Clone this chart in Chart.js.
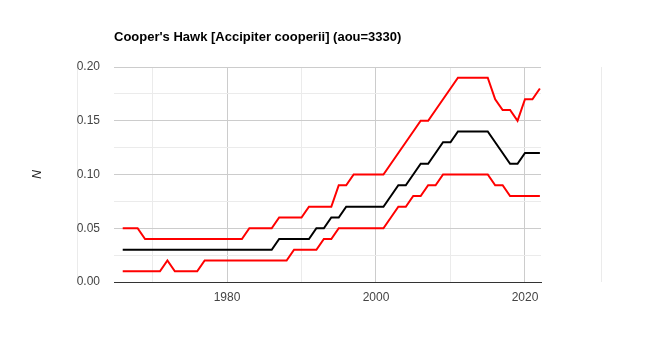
<!DOCTYPE html>
<html>
<head>
<meta charset="utf-8">
<script src="https://cdn.jsdelivr.net/npm/chart.js@4/dist/chart.umd.min.js"></script>
<style>
html,body{margin:0;padding:0;background:#fff;}
#wrap{width:656px;height:350px;position:relative;}
</style>
</head>
<body>
<div id="wrap"><canvas id="c" width="656" height="350"></canvas></div>
<script>
const chartTitle = "Cooper's Hawk [Accipiter cooperii] (aou=3330)";
const yAxisTitle = "N";
const years = [];
for (let y = 1966; y <= 2022; y++) years.push(y);

const upper = [0.05,0.05,0.05,0.04,0.04,0.04,0.04,0.04,0.04,0.04,
               0.04,0.04,0.04,0.04,0.04,0.04,0.04,0.05,0.05,0.05,
               0.05,0.06,0.06,0.06,0.06,0.07,0.07,0.07,0.07,0.09,
               0.09,0.10,0.10,0.10,0.10,0.10,0.11,0.12,0.13,0.14,
               0.15,0.15,0.16,0.17,0.18,0.19,0.19,0.19,0.19,0.19,
               0.17,0.16,0.16,0.15,0.17,0.17,0.18];
const middle = [0.03,0.03,0.03,0.03,0.03,0.03,0.03,0.03,0.03,0.03,
                0.03,0.03,0.03,0.03,0.03,0.03,0.03,0.03,0.03,0.03,
                0.03,0.04,0.04,0.04,0.04,0.04,0.05,0.05,0.06,0.06,
                0.07,0.07,0.07,0.07,0.07,0.07,0.08,0.09,0.09,0.10,
                0.11,0.11,0.12,0.13,0.13,0.14,0.14,0.14,0.14,0.14,
                0.13,0.12,0.11,0.11,0.12,0.12,0.12];
const lower = [0.01,0.01,0.01,0.01,0.01,0.01,0.02,0.01,0.01,0.01,
               0.01,0.02,0.02,0.02,0.02,0.02,0.02,0.02,0.02,0.02,
               0.02,0.02,0.02,0.03,0.03,0.03,0.03,0.04,0.04,0.05,
               0.05,0.05,0.05,0.05,0.05,0.05,0.06,0.07,0.07,0.08,
               0.08,0.09,0.09,0.10,0.10,0.10,0.10,0.10,0.10,0.10,
               0.09,0.09,0.08,0.08,0.08,0.08,0.08];
const xTicks = [1970,1980,1990,2000,2010,2020];
const xLabelTicks = [1980,2000,2020];
const yLabelTicks = [0,0.05,0.10,0.15,0.20];

const pts = arr => years.map((y,i)=>({x:y,y:arr[i]}));
const FONT = "'Liberation Sans', Arial, sans-serif";

const sideLines = {
  id:'sideLines',
  beforeDraw(chart){
    const {ctx, chartArea:a} = chart;
    ctx.save();
    ctx.strokeStyle = '#ebebeb';
    ctx.lineWidth = 1;
    [a.left - 37, a.right + 60].forEach(x=>{
      ctx.beginPath();
      ctx.moveTo(x+0.5, a.top);
      ctx.lineTo(x+0.5, a.bottom);
      ctx.stroke();
    });
    ctx.restore();
  }
};

new Chart(document.getElementById('c'), {
  type:'line',
  data:{
    datasets:[
      {label:'upper', data:pts(upper), borderColor:'#ff0000', borderWidth:2, pointRadius:0, fill:false, tension:0},
      {label:'N', data:pts(middle), borderColor:'#000000', borderWidth:2, pointRadius:0, fill:false, tension:0},
      {label:'lower', data:pts(lower), borderColor:'#ff0000', borderWidth:2, pointRadius:0, fill:false, tension:0}
    ]
  },
  options:{
    responsive:false,
    animation:false,
    layout:{padding:{left:0,right:115,top:0,bottom:0}},
    plugins:{
      legend:{display:false},
      tooltip:{enabled:false},
      title:{
        display:true, text:chartTitle, align:'start', fullSize:false,
        color:'#000', font:{family:FONT, size:13, weight:'bold'},
        padding:{top:30,bottom:21.4}
      }
    },
    scales:{
      x:{
        type:'linear', min:1964.83, max:2022.15,
        afterBuildTicks(s){ s.ticks = xTicks.map(v=>({value:v})); },
        afterFit(s){ s.height = 68; },
        grid:{
          drawTicks:false,
          color:c=> (c.tick && xLabelTicks.includes(c.tick.value)) ? '#cccccc' : '#ebebeb',
          lineWidth:1
        },
        border:{display:true, color:'#333333', width:1},
        ticks:{
          padding:8, color:'#444444', font:{family:FONT, size:12},
          maxRotation:0, autoSkip:false,
          callback:v=> xLabelTicks.includes(v) ? String(v) : ''
        }
      },
      y:{
        min:0, max:0.2,
        afterBuildTicks(s){ const t=[]; for(let i=0;i<=8;i++) t.push({value:i*0.025}); s.ticks=t; },
        afterFit(s){ s.width = 114; },
        grid:{
          drawTicks:false,
          color:c=> (c.tick && yLabelTicks.some(v=>Math.abs(v-c.tick.value)<1e-9)) ? '#cccccc' : '#ebebeb',
          lineWidth:1
        },
        border:{display:false},
        ticks:{
          padding:14, color:'#444444', font:{family:FONT, size:12}, autoSkip:false,
          callback:v=> yLabelTicks.some(t=>Math.abs(t-v)<1e-9) ? v.toFixed(2) : ''
        },
        title:{
          display:true, text:yAxisTitle, color:'#222', font:{family:FONT, size:12, style:'italic'},
          padding:{top:30,bottom:0}
        }
      }
    }
  },
  plugins:[sideLines]
});
</script>
</body>
</html>
